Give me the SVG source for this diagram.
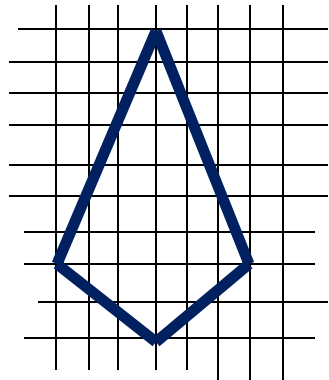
<svg xmlns="http://www.w3.org/2000/svg" width="329" height="380" viewBox="0 0 329 380">
<style>
.g{stroke:#000;stroke-width:2;fill:none}
.k{stroke:#002060;stroke-width:11;stroke-linecap:butt;fill:none}
</style>
<rect width="329" height="380" fill="#fff"/>
<g id="grid">
<line class="g" x1="56" y1="5" x2="56" y2="370"/>
<line class="g" x1="89" y1="5" x2="89" y2="370"/>
<line class="g" x1="118" y1="5" x2="118" y2="370"/>
<line class="g" x1="156" y1="5" x2="156" y2="370"/>
<line class="g" x1="187" y1="5" x2="187" y2="370"/>
<line class="g" x1="218" y1="5" x2="218" y2="380"/>
<line class="g" x1="250" y1="5" x2="250" y2="380"/>
<line class="g" x1="283" y1="5" x2="283" y2="380"/>
<line class="g" x1="18" y1="29" x2="328" y2="29"/>
<line class="g" x1="9" y1="62" x2="328" y2="62"/>
<line class="g" x1="9" y1="93" x2="328" y2="93"/>
<line class="g" x1="9" y1="125" x2="328" y2="125"/>
<line class="g" x1="9" y1="165" x2="328" y2="165"/>
<line class="g" x1="9" y1="196" x2="328" y2="196"/>
<line class="g" x1="24" y1="232" x2="315" y2="232"/>
<line class="g" x1="24" y1="264" x2="315" y2="264"/>
<line class="g" x1="38" y1="302" x2="328" y2="302"/>
<line class="g" x1="24" y1="338" x2="315" y2="338"/>
</g>
<g id="kite">
<line class="k" x1="156" y1="31" x2="57" y2="264"/>
<line class="k" x1="156" y1="31" x2="249" y2="264"/>
<line class="k" x1="57" y1="264" x2="156" y2="342"/>
<line class="k" x1="249" y1="264" x2="156" y2="342"/>
</g>
</svg>
